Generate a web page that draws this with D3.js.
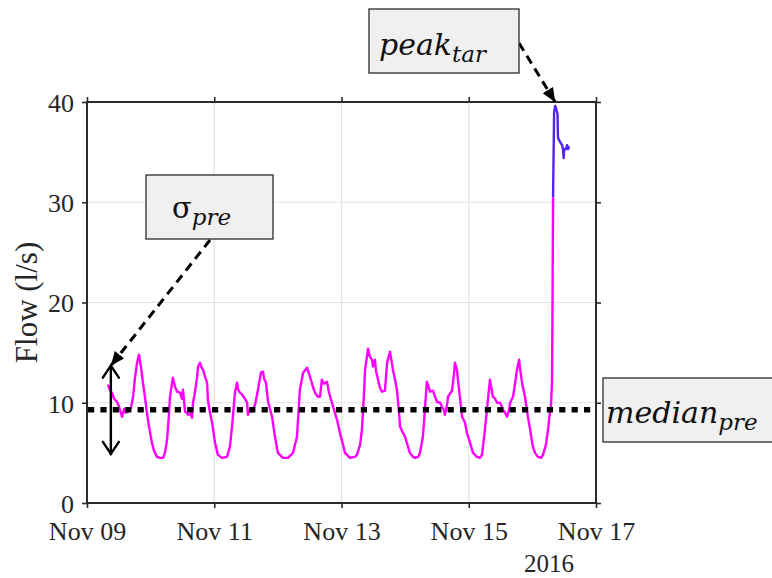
<!DOCTYPE html>
<html>
<head>
<meta charset="utf-8">
<script src="https://cdn.jsdelivr.net/npm/d3@7"></script>
<style>
  html, body { margin: 0; padding: 0; background: #fff; }
  svg { display: block; }
</style>
</head>
<body>
<div id="chart"></div>
<script>
// Flow record: hours after 2016-11-09 00:00 and flow in l/s
const preHours = [
  7.9, 8.7, 9.4, 10.2, 11.3, 12.1, 13.2, 14.0, 14.7, 15.8, 16.6, 17.4, 18.1, 18.9, 19.6, 20.4,
  21.1, 21.9, 22.6, 23.4, 24.5, 25.3, 26.4, 27.5, 28.7, 29.4, 30.2, 30.9, 31.3,
  32.4, 33.2, 34.0, 35.1, 35.8, 36.2, 37.0, 37.7, 38.1, 38.9, 39.6, 40.0, 40.7, 41.5, 41.9, 42.6,
  43.4, 43.8, 44.5, 45.3, 45.6, 46.4, 47.2, 48.3, 49.4, 50.9, 52.8, 53.9, 54.7, 55.8, 56.6,
  57.0, 57.7, 58.5, 59.6, 60.4, 60.7, 61.5, 62.2, 63.4, 64.5, 65.6, 66.4, 66.8, 67.5, 68.3, 69.0,
  69.8, 70.9, 72.0, 73.9, 75.8, 77.7, 79.2, 80.3, 81.5, 83.0, 84.1, 85.2, 86.0, 87.1, 87.9, 88.6,
  89.4, 90.5, 91.3, 92.4, 93.5, 94.3, 95.4, 96.6, 97.3, 99.2, 101.1, 101.8, 103.0, 103.7, 104.5,
  104.9, 106.0, 106.7, 107.5, 107.9, 108.6, 109.0, 109.8, 110.5, 111.3, 112.4, 113.2, 114.3, 115.4,
  116.2, 116.9, 117.7, 118.1, 118.8, 120.0, 121.1, 121.8, 123.0, 123.7, 124.9, 125.6, 126.7, 127.5,
  128.2, 129.4, 130.5, 131.3, 132.0, 133.2, 133.9, 134.7, 135.0, 135.8, 136.2, 136.9, 137.7, 138.4,
  138.8, 139.6, 139.9, 140.7, 141.5, 142.6, 143.3, 144.5, 145.6, 147.1, 148.2, 149.0, 150.1, 151.3,
  152.0, 153.1, 153.9, 154.7, 155.8, 156.5, 156.9, 157.7, 158.4, 159.2, 159.6, 160.7, 161.4, 162.2,
  163.0, 163.3, 164.1, 165.2, 166.3, 167.1, 168.2, 169.0, 170.1, 171.3, 172.0, 173.1, 173.9, 174.6,
  175.0, 175.4, 175.6, 175.8
];
const preFlow = [
  11.8, 11.2, 11.0, 10.4, 10.1, 9.6, 8.6, 9.4, 9.0, 9.2, 9.5, 10.6, 12.5, 14.0, 14.8, 13.5,
  12.0, 10.5, 9.0, 7.6, 6.0, 5.2, 4.6, 4.5, 4.5, 5.0, 6.3, 8.8, 10.6,
  12.5, 11.6, 11.1, 11.0, 10.4, 11.3, 9.1, 9.0, 8.8, 8.9, 8.5, 10.0, 11.0, 12.5, 13.6, 14.0,
  13.4, 13.3, 12.6, 12.0, 10.3, 9.0, 8.0, 6.0, 4.8, 4.5, 4.6, 5.6, 7.6, 11.0, 12.0,
  11.3, 11.0, 10.8, 10.4, 10.0, 8.8, 9.3, 9.1, 9.8, 11.3, 13.0, 13.1, 12.4, 12.0, 10.1, 9.4,
  8.6, 6.6, 5.0, 4.5, 4.5, 5.0, 6.6, 11.3, 13.0, 13.5, 12.6, 11.6, 11.0, 10.6, 10.6, 12.3,
  11.9, 12.1, 11.0, 10.0, 9.0, 8.3, 7.0, 5.8, 5.0, 4.5, 4.6, 4.8, 5.8, 7.3, 11.0,
  13.3, 15.4, 14.6, 14.3, 13.6, 14.3, 13.2, 12.3, 11.5, 11.1, 11.2, 14.0, 15.1, 13.3,
  12.3, 11.3, 9.0, 7.6, 7.2, 6.6, 5.6, 5.0, 4.6, 4.5, 4.6, 5.0, 6.6, 9.5,
  12.1, 11.1, 11.2, 10.6, 10.1, 10.0, 9.6, 9.2, 8.8, 9.8, 10.6, 10.9, 11.2, 12.8,
  14.0, 13.2, 12.3, 10.5, 8.6, 8.0, 7.0, 6.0, 5.0, 4.6, 4.5, 4.8, 7.3, 10.5,
  12.3, 10.6, 10.4, 10.0, 10.0, 9.6, 9.3, 9.0, 8.6, 9.3, 10.0, 10.6, 11.8, 13.3,
  14.3, 13.5, 12.0, 10.6, 8.6, 7.4, 5.6, 5.0, 4.6, 4.5, 4.8, 5.8, 7.3, 9.0,
  9.6, 12.0, 20.0, 30.5
];
const tarHours = [175.8, 176.2, 176.6, 176.9, 177.5, 177.6, 177.7, 178.5, 179.2, 179.6, 179.8, 180.0, 180.7, 181.1, 181.5, 181.8];
const tarFlow  = [30.5, 39.0, 39.6, 39.4, 38.8, 37.0, 36.4, 36.0, 35.7, 35.2, 34.4, 35.3, 35.3, 35.7, 35.3, 35.6];

const medianPre = 9.3;
const sigmaPre = 4.4;

const xTickDates = ["2016-11-09", "2016-11-11", "2016-11-13", "2016-11-15", "2016-11-17"];
const yTickValues = [0, 10, 20, 30, 40];

const W = 772, H = 578;
const m = { left: 87, right: 596, top: 102, bottom: 503 };
const t0 = new Date(2016, 10, 9);
const toDate = h => new Date(t0.getTime() + h * 3600 * 1000);
const parseDay = d3.timeParse("%Y-%m-%d");

const x = d3.scaleTime().domain([parseDay("2016-11-09"), parseDay("2016-11-17")]).range([m.left, m.right]);
const y = d3.scaleLinear().domain([0, 40]).range([m.bottom, m.top]);

const svg = d3.select("#chart").append("svg").attr("width", W).attr("height", H);

const defs = svg.append("defs");
defs.append("marker")
  .attr("id", "headFilled")
  .attr("viewBox", "0 0 14 12")
  .attr("refX", 14).attr("refY", 6)
  .attr("markerWidth", 14).attr("markerHeight", 12)
  .attr("markerUnits", "userSpaceOnUse")
  .attr("orient", "auto")
  .append("path").attr("d", "M0,0 L14,6 L0,12 Z").attr("fill", "#000");

const frameColor = "#2b2b2b";
const tickFont = "'Liberation Serif', 'Times New Roman', serif";

// grid
const xTicks = xTickDates.map(parseDay);
const grid = svg.append("g");
grid.selectAll("line.gx").data(xTicks).join("line")
  .attr("x1", d => x(d)).attr("x2", d => x(d))
  .attr("y1", m.top).attr("y2", m.bottom)
  .attr("stroke", "#e3e3e3").attr("stroke-width", 1.2);
grid.selectAll("line.gy").data(yTickValues).join("line")
  .attr("x1", m.left).attr("x2", m.right)
  .attr("y1", d => y(d)).attr("y2", d => y(d))
  .attr("stroke", "#e3e3e3").attr("stroke-width", 1.2);

// flow series
const line = d3.line().x(d => x(d[0])).y(d => y(d[1]));
const preData = preHours.map((h, i) => [toDate(h), preFlow[i]]);
const tarData = tarHours.map((h, i) => [toDate(h), tarFlow[i]]);
svg.append("path").datum(preData).attr("d", line)
  .attr("fill", "none").attr("stroke", "#ff00ff").attr("stroke-width", 2.4).attr("stroke-linejoin", "round");
svg.append("path").datum(tarData).attr("d", line)
  .attr("fill", "none").attr("stroke", "#5222f2").attr("stroke-width", 2.4).attr("stroke-linejoin", "round");

// median line
svg.append("line")
  .attr("x1", m.left + 1).attr("x2", m.right - 2)
  .attr("y1", y(medianPre)).attr("y2", y(medianPre))
  .attr("stroke", "#000").attr("stroke-width", 5.5)
  .attr("stroke-dasharray", "6.2,6.2");

// axes
const xAxisB = d3.axisBottom(x).tickValues(xTicks).tickFormat(d3.timeFormat("%b %d")).tickSize(5).tickSizeOuter(0);
const xAxisT = d3.axisTop(x).tickValues(xTicks).tickFormat("").tickSize(5).tickSizeOuter(0);
const yAxisL = d3.axisLeft(y).tickValues(yTickValues).tickSize(5).tickSizeOuter(0);
const yAxisR = d3.axisRight(y).tickValues(yTickValues).tickFormat("").tickSize(5).tickSizeOuter(0);

function styleAxis(g) {
  g.select(".domain").remove();
  g.selectAll(".tick line").attr("stroke", frameColor).attr("stroke-width", 1.6);
  g.selectAll(".tick text").attr("fill", "#262626").style("font-family", tickFont).style("font-size", "26px");
}
svg.append("g").attr("transform", `translate(0,${m.bottom})`).call(xAxisB).call(styleAxis)
  .selectAll(".tick text").attr("y", 37).attr("dy", 0);
svg.append("g").attr("transform", `translate(0,${m.top})`).call(xAxisT).call(styleAxis);
svg.append("g").attr("transform", `translate(${m.left},0)`).call(yAxisL).call(styleAxis)
  .selectAll(".tick text").attr("x", -13).attr("dy", "0.36em");
svg.append("g").attr("transform", `translate(${m.right},0)`).call(yAxisR).call(styleAxis);

// frame
svg.append("rect")
  .attr("x", m.left).attr("y", m.top)
  .attr("width", m.right - m.left).attr("height", m.bottom - m.top)
  .attr("fill", "none").attr("stroke", frameColor).attr("stroke-width", 2);

// year label and axis title
svg.append("text").attr("x", 549).attr("y", 572).attr("text-anchor", "middle")
  .attr("fill", "#262626").style("font-family", tickFont).style("font-size", "25px").text("2016");
svg.append("text").attr("transform", `translate(37,${(m.top + m.bottom) / 2}) rotate(-90)`)
  .attr("text-anchor", "middle").attr("fill", "#262626")
  .style("font-family", tickFont).style("font-size", "31px").text("Flow (l/s)");

// spread arrow around the median
const sx = x(toDate(9.0));
const sTop = y(medianPre + sigmaPre), sBot = y(medianPre - sigmaPre);
const arr = svg.append("g").attr("stroke", "#000").attr("stroke-width", 2.4).attr("fill", "none").attr("stroke-linecap", "round");
arr.append("line").attr("x1", sx).attr("x2", sx).attr("y1", sTop).attr("y2", sBot);
arr.append("path").attr("d", `M${sx - 8},${sTop + 12} L${sx},${sTop} L${sx + 8},${sTop + 12}`);
arr.append("path").attr("d", `M${sx - 8},${sBot - 12} L${sx},${sBot} L${sx + 8},${sBot - 12}`);

// dashed callout arrows
const dashed = svg.append("g").attr("stroke", "#000").attr("stroke-width", 3).attr("stroke-dasharray", "9,6").attr("fill", "none");
dashed.append("line").attr("x1", 210).attr("y1", 240).attr("x2", sx).attr("y2", sTop).attr("marker-end", "url(#headFilled)");
const peakIdx = d3.maxIndex(tarFlow);
dashed.append("line").attr("x1", 519).attr("y1", 43)
  .attr("x2", x(toDate(tarHours[peakIdx]))).attr("y2", y(40)).attr("marker-end", "url(#headFilled)");

// annotation boxes
const mathFont = "'DejaVu Serif', serif";
function box(x0, y0, w, h) {
  svg.append("rect").attr("x", x0).attr("y", y0).attr("width", w).attr("height", h)
    .attr("fill", "#f0f0f0").attr("stroke", "#2b2b2b").attr("stroke-width", 1.3);
}
function label(x0, yb, main, sub, italicMain, mainSize) {
  const t = svg.append("text").attr("x", x0).attr("y", yb).attr("fill", "#111").style("font-family", mathFont);
  t.append("tspan").style("font-size", mainSize + "px").style("font-style", italicMain ? "italic" : "normal").text(main);
  t.append("tspan").attr("dy", 7).style("font-size", "23px").style("font-style", "italic").text(sub);
}
box(146, 175, 127, 64);
label(172, 218, "σ", "pre", false, 29);
box(369, 9, 150, 64);
label(379, 55, "peak", "tar", true, 30);
box(603, 378, 175, 64);
label(606, 423, "median", "pre", true, 30);
</script>
</body>
</html>
